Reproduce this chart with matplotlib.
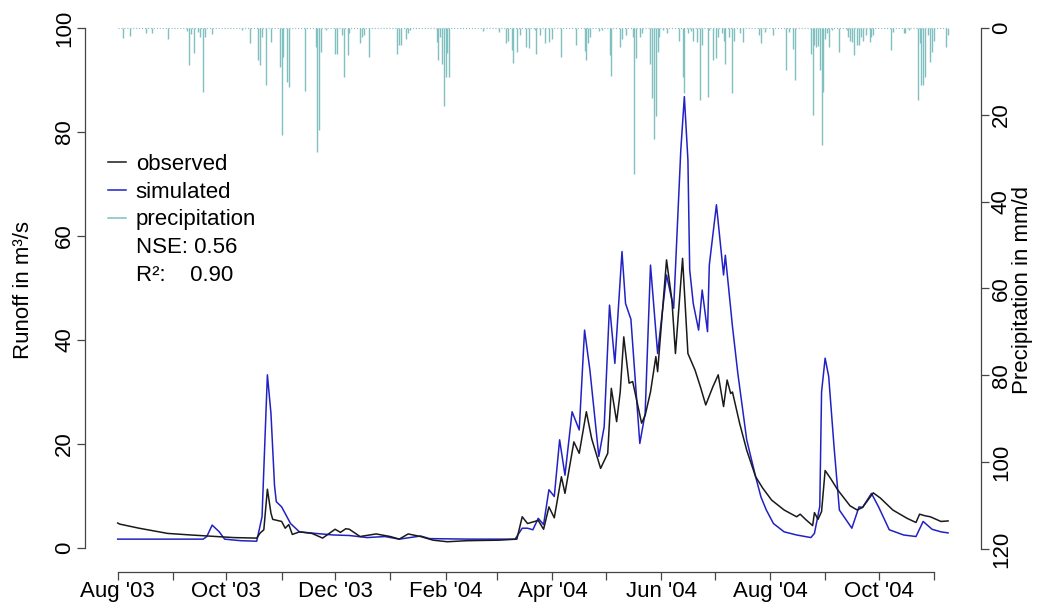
import numpy as np
import matplotlib.pyplot as plt
from matplotlib.lines import Line2D

plt.rcParams['font.family'] = ['Liberation Sans', 'DejaVu Sans']

start = np.datetime64('2003-08-01')
last_day = 466

# observed runoff (day offset from 1 Aug 2003, m3/s)
obs_day = [0, 1, 12, 28, 41, 65, 78, 80, 82, 84, 86, 87, 92, 94, 96, 98, 102, 109, 115,
           122, 125, 128, 130, 133, 136, 145, 153, 158, 163, 170, 177, 185, 196, 214,
           224, 227, 230, 233, 236, 239, 242, 245, 249, 251, 256, 259, 263, 266, 271,
           275, 277, 280, 282, 284, 287, 289, 294, 296, 299, 302, 303, 308, 311, 313,
           317, 320, 324, 327, 330, 334, 337, 340, 342, 344, 345, 349, 353, 358, 362,
           367, 374, 381, 383, 386, 390, 391, 393, 395, 397, 400, 404, 411, 415, 418, 424,
           428, 435, 443, 448, 450, 453, 456, 462, 466]
obs_q = [4.8, 4.6, 3.8, 2.8, 2.5, 2.0, 1.9, 2.9, 3.5, 11.3, 6.7, 5.5, 5.1, 3.8, 4.5, 2.6,
         3.1, 2.8, 1.9, 3.6, 3.0, 3.7, 3.6, 2.9, 2.2, 2.7, 2.2, 1.7, 2.7, 2.2, 1.5, 1.2,
         1.4, 1.5, 1.7, 6.0, 4.7, 5.0, 5.3, 3.6, 7.9, 5.8, 13.7, 10.5, 20.4, 18.2, 26.2,
         21.0, 15.3, 18.2, 30.7, 24.3, 30.0, 40.6, 31.7, 32.0, 24.0, 25.5, 30.0, 36.8,
         33.9, 55.4, 47.7, 37.4, 55.7, 37.4, 34.2, 31.0, 27.5, 31.0, 33.3, 27.2, 32.3,
         29.7, 30.0, 24.0, 18.8, 13.7, 11.5, 9.2, 7.3, 6.0, 6.5, 5.5, 4.3, 6.8, 5.5, 7.0,
         14.9, 13.4, 11.2, 8.1, 7.3, 7.8, 10.6, 9.6, 7.3, 5.7, 4.9, 6.5, 6.2, 6.0, 5.1,
         5.2]

# simulated runoff (day offset, m3/s)
sim_day = [0, 48, 50, 53, 57, 60, 69, 78, 81, 84, 86, 88, 89, 92, 97, 102, 111, 121, 130,
           140, 150, 158, 170, 175, 198, 223, 227, 230, 233, 236, 239, 242, 245, 248,
           251, 255, 259, 262, 265, 270, 273, 276, 279, 283, 285, 288, 293, 296, 299,
           303, 308, 312, 316, 318, 320, 321, 323, 326, 328, 331, 332, 334, 336, 340,
           341, 345, 348, 353, 358, 361, 364, 368, 374, 381, 389, 391, 394, 395, 397, 399,
           402, 405, 412, 416, 418, 423, 427, 433, 441, 448, 452, 457, 462, 466]
sim_q = [1.7, 1.7, 2.2, 4.4, 3.1, 1.7, 1.4, 1.3, 6.0, 33.3, 25.9, 12.0, 8.9, 7.9, 4.7, 3.1,
         2.8, 2.5, 2.4, 2.0, 2.2, 1.7, 2.3, 1.8, 1.7, 1.7, 3.8, 3.8, 3.5, 5.7, 4.5, 11.2,
         9.9, 20.8, 14.0, 26.2, 22.7, 41.9, 34.2, 17.6, 23.3, 46.7, 35.5, 57.0, 47.0,
         44.0, 20.1, 25.9, 54.4, 37.4, 52.5, 46.1, 76.5, 86.8, 74.6, 53.5, 47.0, 41.9,
         49.6, 41.6, 54.4, 60.2, 66.0, 52.5, 56.3, 42.6, 33.6, 20.8, 13.7, 9.8, 7.3, 4.7,
         3.1, 2.5, 2.0, 2.8, 8.0, 30.0, 36.5, 33.0, 19.5, 7.3, 3.8, 7.9, 7.8, 10.5, 7.9,
         3.5, 2.5, 2.2, 5.1, 3.6, 3.1, 2.9]

# daily precipitation (day offset, mm/d)
rain_day = [3, 7, 16, 19, 28, 39, 40, 41, 43, 45, 46, 48, 49, 53, 70, 74, 79, 80, 81,
            83, 86, 91, 92, 93, 95, 96, 105, 111, 112, 113, 114, 117, 122, 123, 126, 127,
            129, 130, 136, 137, 138, 141, 157, 158, 159, 162, 163, 164, 179, 180, 181,
            182, 183, 184, 185, 186, 205, 214, 218, 219, 221, 222, 224, 226, 229, 231,
            234, 235, 237, 240, 242, 244, 249, 257, 262, 263, 264, 265, 270, 272, 276,
            277, 282, 283, 285, 289, 290, 291, 293, 294, 299, 300, 301, 302, 303, 304,
            306, 308, 315, 317, 318, 320, 322, 323, 325, 327, 328, 331, 332, 334, 336,
            337, 339, 340, 341, 343, 345, 346, 349, 351, 360, 361, 363, 368, 375, 377,
            379, 380, 389, 390, 391, 392, 393, 394, 395, 396, 397, 398, 399, 401, 405,
            409, 410, 411, 412, 413, 415, 416, 417, 418, 420, 422, 423, 424, 434, 435,
            441, 442, 444, 449, 450, 451, 452, 453, 455, 456, 457, 458, 465, 466]
rain_mm = [2.4, 1.8, 1.2, 1.2, 2.6, 0.7, 8.5, 1.5, 5.7, 1.0, 2.0, 14.7, 2.0, 1.5, 0.5,
           3.5, 7.4, 8.6, 2.0, 13.2, 3.2, 8.9, 24.7, 6.6, 12.4, 13.5, 14.5, 4.3, 28.6,
           23.6, 5.5, 0.5, 5.9, 5.9, 1.6, 11.2, 6.2, 1.2, 3.5, 2.0, 1.6, 6.6, 6.1, 4.0,
           4.0, 2.5, 1.2, 0.5, 3.2, 7.4, 2.0, 8.2, 18.0, 11.2, 5.7, 11.2, 0.6, 1.0, 3.5,
           3.0, 5.0, 8.0, 5.5, 1.6, 4.3, 4.6, 0.5, 5.9, 1.6, 3.5, 3.2, 2.5, 6.6, 4.0,
           5.2, 7.4, 3.5, 2.0, 0.8, 0.5, 6.2, 11.1, 4.3, 2.5, 1.6, 2.0, 33.7, 7.0, 2.0,
           1.2, 8.2, 16.2, 25.5, 20.3, 5.5, 2.0, 0.5, 1.2, 3.0, 11.2, 15.0, 1.2, 0.6,
           3.0, 3.2, 16.6, 4.0, 15.9, 0.5, 7.4, 7.0, 2.0, 1.2, 3.0, 8.2, 2.0, 15.0, 3.0,
           1.2, 3.2, 1.6, 3.5, 0.9, 1.6, 9.7, 0.9, 4.8, 12.0, 5.9, 20.0, 4.0, 4.4, 4.2,
           9.7, 26.9, 14.7, 2.5, 1.2, 4.4, 0.5, 5.5, 0.5, 2.0, 3.0, 3.2, 6.2, 4.0, 4.0,
           2.0, 3.0, 1.6, 3.2, 2.0, 1.6, 5.0, 0.9, 1.2, 1.2, 0.5, 16.6, 3.5, 13.2, 13.2,
           11.2, 1.6, 7.8, 5.5, 3.0, 4.3, 1.6]

tick_months = ['2003-08-01', '2003-09-01', '2003-10-01', '2003-11-01', '2003-12-01',
               '2004-01-01', '2004-02-01', '2004-03-01', '2004-04-01', '2004-05-01',
               '2004-06-01', '2004-07-01', '2004-08-01', '2004-09-01', '2004-10-01',
               '2004-11-01']
tick_labels = ["Aug '03", '', "Oct '03", '', "Dec '03", '', "Feb '04", '', "Apr '04", '',
               "Jun '04", '', "Aug '04", '', "Oct '04", '']

obs_col = '#1a1a1a'
sim_col = '#2222c4'
rain_col = '#80c0c0'

def to_date(days):
    return start + np.array(days, dtype='timedelta64[D]')

fig = plt.figure(figsize=(10.46, 6.09), dpi=100)
ax = fig.add_axes([0.0813, 0.0608, 0.8566, 0.9274])
ax2 = ax.twinx()

ax.plot(to_date(obs_day), obs_q, color=obs_col, lw=1.1, zorder=3)
ax.plot(to_date(sim_day), sim_q, color=sim_col, lw=1.1, zorder=2)

ax2.vlines(to_date(rain_day), 0, rain_mm, color=rain_col, lw=1.0)
ax2.hlines(0, to_date(0), to_date(last_day), color=rain_col, lw=0.8, linestyles=':')

ticks = np.array(tick_months, dtype='datetime64[D]')
ax.set_xticks(ticks)
ax.set_xticklabels(tick_labels)
ax.set_xlim(start - np.timedelta64(440, 'h'), start + np.timedelta64(11628, 'h'))

ax.set_ylim(-4.615, 104)
ax.set_yticks([0, 20, 40, 60, 80, 100])
ax2.set_ylim(125.3, -4.79)
ax2.set_yticks([0, 20, 40, 60, 80, 100, 120])

for a in (ax, ax2):
    for s in a.spines.values():
        s.set_visible(False)
ax.spines['left'].set_visible(True)
ax.spines['left'].set_bounds(0, 100)
ax.spines['bottom'].set_visible(True)
ax.spines['bottom'].set_bounds(ticks[0], ticks[-1])
ax2.spines['right'].set_visible(True)
ax2.spines['right'].set_bounds(0, 120)
for s in (ax.spines['left'], ax.spines['bottom'], ax2.spines['right']):
    s.set_color('#444444')
    s.set_linewidth(0.9)

ax.tick_params(axis='x', length=6, width=0.9, color='#444444', labelsize=16, pad=0.5)
ax.tick_params(axis='y', length=6, width=0.9, color='#444444', labelsize=16, pad=1)
ax2.tick_params(axis='y', length=6, width=0.9, color='#444444', labelsize=16, pad=1)
for lbl in ax.get_yticklabels():
    lbl.set_rotation(90)
    lbl.set_va('center')
for lbl in ax2.get_yticklabels():
    lbl.set_rotation(90)
    lbl.set_va('center')

ax.set_ylabel('Runoff in m³/s', fontsize=16)
ax.yaxis.set_label_coords(-0.057, 0.5)
ax2.set_ylabel('Precipitation in mm/d', fontsize=16)
ax2.yaxis.set_label_coords(1.035, 0.5)

handles = [Line2D([], [], color=obs_col, lw=1.1),
           Line2D([], [], color=sim_col, lw=1.1),
           Line2D([], [], color=rain_col, lw=1.1),
           Line2D([], [], color='none'),
           Line2D([], [], color='none')]
labels = ['observed', 'simulated', 'precipitation', 'NSE: 0.56', 'R²:    0.90']
ax2.legend(handles, labels, loc='upper left', bbox_to_anchor=(108 / 1046, 1 - 154 / 609),
           bbox_transform=fig.transFigure, frameon=False, borderaxespad=0, borderpad=0,
           handlelength=0.8, handletextpad=0.45, labelspacing=0.3, fontsize=16)

fig.savefig('out.png', dpi=100)
